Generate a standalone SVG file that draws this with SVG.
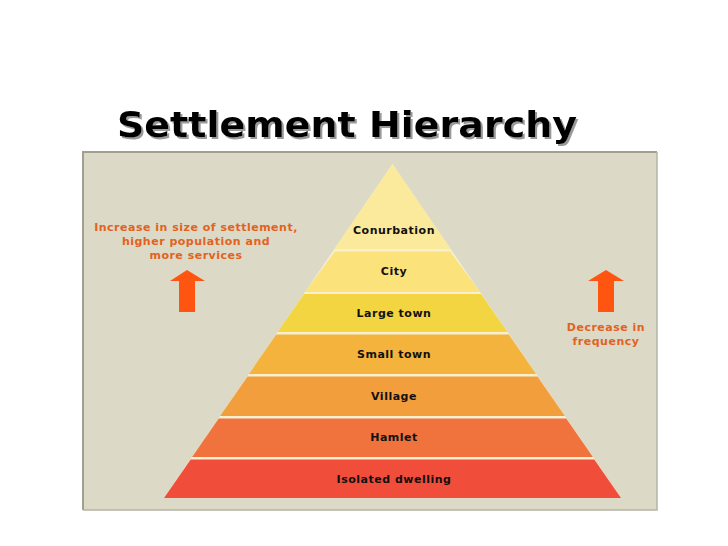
<svg xmlns="http://www.w3.org/2000/svg" width="728" height="546" viewBox="0 0 728 546">
<defs>
<filter id="shadow" x="-5%" y="-20%" width="110%" height="150%">
<feOffset in="SourceAlpha" dx="2" dy="2" result="off"/>
<feFlood flood-color="#9a9a9a"/>
<feComposite in2="off" operator="in" result="sh"/>
<feMerge><feMergeNode in="sh"/><feMergeNode in="SourceGraphic"/></feMerge>
</filter>
</defs>
<style>
.lbl{font-family:"DejaVu Sans",Verdana,sans-serif;font-weight:bold;font-size:11px;letter-spacing:0.5px;fill:#111;text-anchor:middle}
.note{font-family:"DejaVu Sans",Verdana,sans-serif;font-weight:bold;font-size:11px;letter-spacing:0.5px;fill:#E2621E;text-anchor:middle}
.title{font-family:"DejaVu Sans",sans-serif;font-weight:bold;font-size:36px}
.arrow{fill:#FF5510}
</style>
<rect width="728" height="546" fill="#ffffff"/>
<g id="title">
<text class="title" x="117" y="137" fill="#000000" filter="url(#shadow)" textLength="460" lengthAdjust="spacingAndGlyphs">Settlement Hierarchy</text>
</g>
<g id="panel">
<rect x="83" y="152" width="574" height="358" fill="#DCDAC6"/>
<path d="M83 510 V152 H657" fill="none" stroke="#A09F90" stroke-width="2"/>
<path d="M657 152 V510 H83" fill="none" stroke="#B5B4A6" stroke-width="1.5"/>
</g>
<g id="pyramid-base">
<polygon points="392.5,164 621,498 164,498" fill="#F7EFCF"/>
</g>
<g id="conurbation">
<polygon points="392.5,164 450.6,249 334.4,249" fill="#FCEA9C"/>
<text class="lbl" x="394" y="234">Conurbation</text>
</g>
<g id="city">
<polygon points="335.0,251.5 450.0,251.5 480.0,292 305.0,292" fill="#FBE27A"/>
<text class="lbl" x="394" y="275">City</text>
</g>
<g id="large-town">
<polygon points="304.0,294 481.0,294 507.4,332 277.6,332" fill="#F3D541"/>
<text class="lbl" x="394" y="317">Large town</text>
</g>
<g id="small-town">
<polygon points="276.2,334.5 508.8,334.5 536.1,374 248.9,374" fill="#F4B33C"/>
<text class="lbl" x="394" y="358">Small town</text>
</g>
<g id="village">
<polygon points="247.5,376.5 537.5,376.5 564.9,416 220.1,416" fill="#F39E3C"/>
<text class="lbl" x="394" y="400">Village</text>
</g>
<g id="hamlet">
<polygon points="218.7,418.5 566.3,418.5 592.9,457 192.1,457" fill="#F0733D"/>
<text class="lbl" x="394" y="441">Hamlet</text>
</g>
<g id="isolated-dwelling">
<polygon points="190.7,459.5 594.3,459.5 621,498 164,498" fill="#F04D3A"/>
<text class="lbl" x="394" y="483">Isolated dwelling</text>
</g>
<g id="left-note">
<text class="note" x="196" y="231">Increase in size of settlement,</text>
<text class="note" x="196" y="245">higher population and</text>
<text class="note" x="196" y="259">more services</text>
<polygon class="arrow" points="187,270 205,281 195,281 195,312 179,312 179,281 170,281"/>
</g>
<g id="right-note">
<polygon class="arrow" points="606,270 624,281 614,281 614,312 598,312 598,281 588,281"/>
<text class="note" x="606" y="331">Decrease in</text>
<text class="note" x="606" y="345">frequency</text>
</g>
</svg>
